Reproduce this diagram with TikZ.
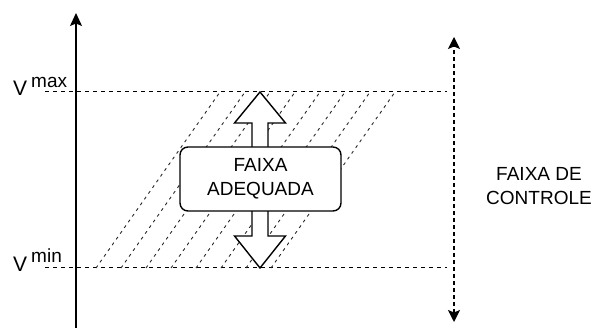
\documentclass[tikz,border=0pt]{standalone}
\usepackage{fontspec}
\setmainfont{Liberation Sans}
\usetikzlibrary{arrows.meta}
\begin{document}
\begin{tikzpicture}[x=1pt,y=-1pt,
  axis/.style={line width=1.4pt,-{Stealth[length=13pt,width=12pt,inset=2.5pt]}},
  guide/.style={line width=1pt,dash pattern=on 4pt off 4pt},
  hatch/.style={line width=0.9pt,dash pattern=on 3pt off 4pt,black!85},
  ctrl/.style={line width=1.4pt,dash pattern=on 3.5pt off 3.5pt,
    {Stealth[length=12pt,width=12pt,inset=2.5pt]}-{Stealth[length=12pt,width=12pt,inset=2.5pt]}},
  blockarrow/.style={line width=1.4pt,fill=white,draw=black},
  box/.style={draw,line width=1.4pt,fill=white,rounded corners=8pt,
    minimum width=161pt,minimum height=64pt,align=center,inner sep=0pt,
    font=\fontsize{19}{23.5}\selectfont},
  lbl/.style={align=center,inner sep=0pt,font=\fontsize{19}{24.5}\selectfont},
  vlbl/.style={anchor=base west,inner sep=0pt}
]
\useasboundingbox (0,0) rectangle (595,328);
% guide lines
\coordinate (maxL) at (45,92);
\coordinate (maxR) at (447,92);
\coordinate (minL) at (45,268);
\coordinate (minR) at (447,268);
\draw[guide] (maxL) -- (maxR);
\draw[guide] (minL) -- (minR);
% hatching
\foreach \i in {0,...,7}{
  \coordinate (hb\i) at ({96+25*\i},268);
  \coordinate (ht\i) at ({220+25*\i},92);
  \draw[hatch] (hb\i) -- (ht\i);
}
% axis
\coordinate (axb) at (76,330);
\coordinate (axt) at (76,13);
\draw[axis] (axb) -- (axt);
% control range arrow
\coordinate (cb) at (454,322);
\coordinate (ct) at (454,37);
\draw[ctrl] (cb) -- (ct);
% double block arrow
\draw[blockarrow] (260,92) -- (285.5,123) -- (268,123) -- (268,236) -- (285.5,236)
  -- (260,268) -- (234.5,236) -- (252,236) -- (252,123) -- (234.5,123) -- cycle;
% box
\node[box] (fa) at (260.5,179) {FAIXA\\ADEQUADA};
% right label
\node[lbl] (fc) at (539,186) {FAIXA DE\\CONTROLE};
% V labels
\node[vlbl] (vmax) at (13,95.5) {\fontsize{21}{21}\selectfont V\hspace{4pt}\raisebox{8pt}{\fontsize{19}{19}\selectfont max}};
\node[vlbl] (vmin) at (13,271.5) {\fontsize{21}{21}\selectfont V\hspace{4pt}\raisebox{9pt}{\fontsize{19}{19}\selectfont min}};
\end{tikzpicture}
\end{document}
